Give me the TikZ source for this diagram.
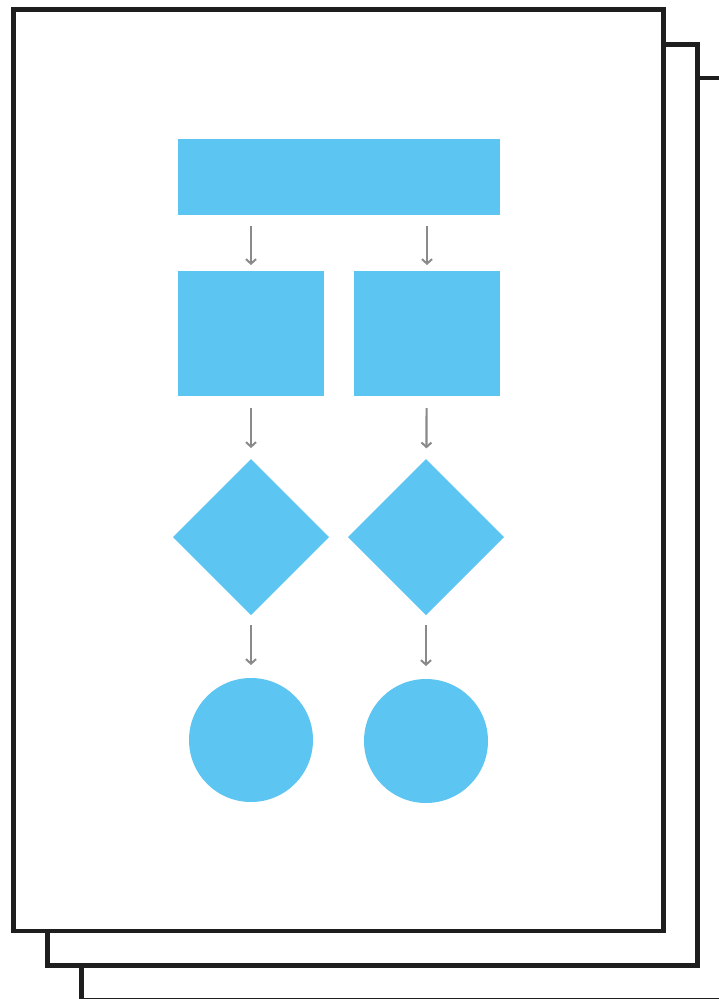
\documentclass[tikz,border=0pt]{standalone}
\usetikzlibrary{shapes.geometric,arrows.meta}
\definecolor{flowblue}{HTML}{5DC5F2}
\definecolor{pageline}{HTML}{1E1E1E}
\definecolor{arrowgray}{HTML}{8A8A8A}
\begin{document}
\begin{tikzpicture}[x=1pt,y=-1pt,
  sheet/.style={draw=pageline,line width=4.5pt,fill=white},
  blk/.style={fill=flowblue,draw=none,inner sep=0pt,outer sep=0pt},
  boxnode/.style={blk,rectangle,anchor=north west},
  decision/.style={blk,diamond,minimum width=156pt,minimum height=156pt},
  terminal/.style={blk,circle,minimum size=124pt},
  flow/.style={draw=arrowgray,line width=2.2pt,-{Straight Barb[length=4.5pt,width=10pt,line width=2pt]}}]
\useasboundingbox (0,0) rectangle (718,999);
% stacked sheets, back to front
\draw[sheet] (81.5,78) rectangle (740,1000);
\draw[sheet] (47.5,44.5) rectangle (697.5,965.5);
\draw[sheet] (13.5,9.5) rectangle (663.5,931);
% blocks
\node[boxnode,minimum width=322pt,minimum height=76pt] (top) at (178,139) {};
\node[boxnode,minimum width=146pt,minimum height=125pt] (sqL) at (178,271) {};
\node[boxnode,minimum width=146pt,minimum height=125pt] (sqR) at (354,271) {};
\node[decision] (dL) at (251,537) {};
\node[decision] (dR) at (426,537) {};
\node[terminal] (cL) at (251,740) {};
\node[terminal] (cR) at (426,741) {};
% connectors
\draw[flow,shorten <=11pt,shorten >=6pt] (top.south -| sqL) -- (sqL);
\draw[flow,shorten <=11pt,shorten >=6pt] (top.south -| sqR) -- (sqR);
\draw[flow,shorten <=12pt,shorten >=11pt] (sqL) -- (dL);
\draw[flow,shorten <=12pt,shorten >=11pt] (sqR) -- (dR);
\draw[flow,shorten <=10pt,shorten >=13pt] (dL) -- (cL);
\draw[flow,shorten <=10pt,shorten >=13pt] (dR) -- (cR);
\end{tikzpicture}
\end{document}
